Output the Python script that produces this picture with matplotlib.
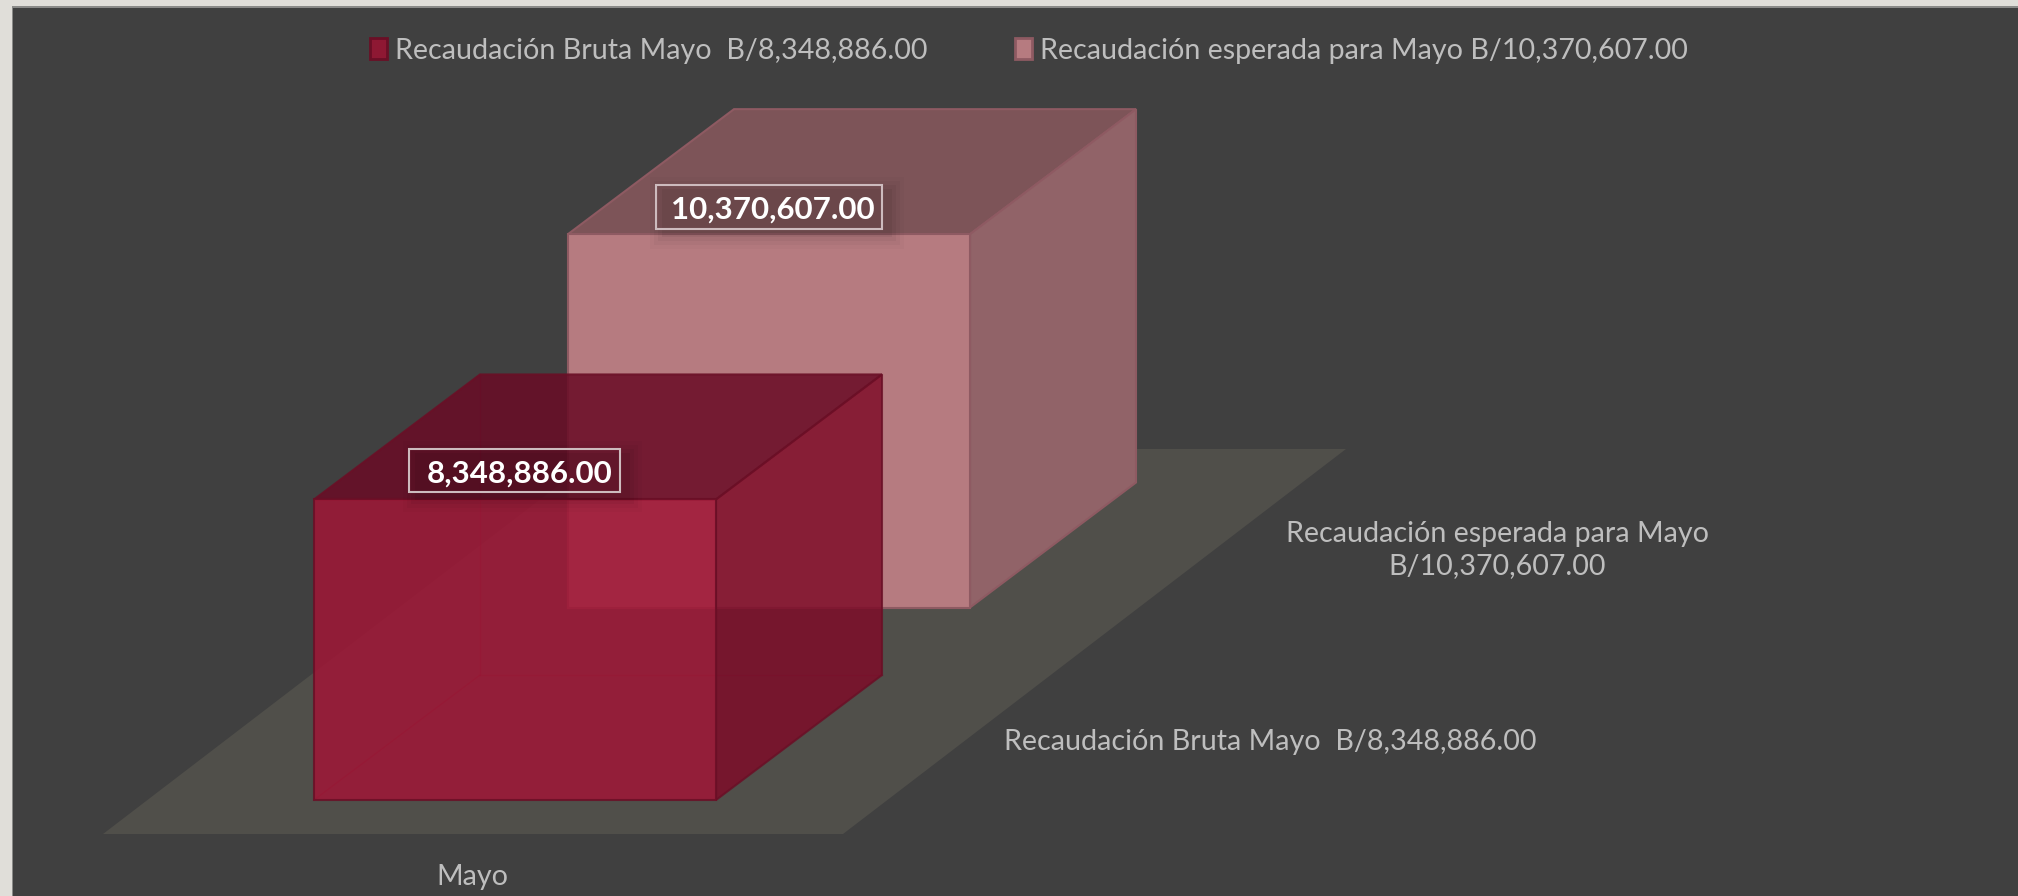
"""Recaudacion de Mayo, two 3D style boxes on a dark slide"""

import matplotlib
matplotlib.use("Agg")
import matplotlib.pyplot as plt
from matplotlib.patches import Polygon, Rectangle

series_names = ["Recaudación Bruta Mayo  B/8,348,886.00",
                "Recaudación esperada para Mayo B/10,370,607.00"]
depth_labels = ["Recaudación Bruta Mayo  B/8,348,886.00",
                "Recaudación esperada para Mayo\nB/10,370,607.00"]
values = [8348886.0, 10370607.0]
value_labels = ["8,348,886.00", "10,370,607.00"]
category = "Mayo"

W, H = 2018, 896
PX_PER_VALUE = 3.6e-5   # pixels of height for one balboa
BASE_Y = 800            # pixel row of value 0 for the front box
BOX_X = 314
BOX_W = 402
DEPTH_X, DEPTH_Y = 166, 125     # oblique offset of a box back face
ROW_X, ROW_Y = 254, 192.5       # offset from one series to the next

front = [("#A01636", 0.85), ("#B67B80", 1.0)]
side = [("#7E0C28", 0.84), ("#916368", 1.0)]
top = [("#690C26", 0.86), ("#7D5458", 1.0)]
edge = ["#6A0F26", "#8E5A62"]
swatch = ["#8E1833", "#B67B80"]
TEXT = "#BEBEBE"


def py(pixel_row):
    """Pixel row to value on the y axis"""
    return (BASE_Y - pixel_row) / PX_PER_VALUE


def label_box(ax, x, y, w, h, text, size):
    """Value label with its soft shadow and thin frame"""
    for grow, alpha in ((14, 0.02), (10, 0.03), (6, 0.04), (2, 0.05)):
        ax.add_patch(Rectangle((x + 8 - grow, py(y + h + 6 + grow)), w + 2 * grow,
                               (h + 2 * grow) / PX_PER_VALUE, fc="black", ec="none",
                               alpha=alpha, zorder=6))
    ax.add_patch(Rectangle((x, py(y + h)), w, h / PX_PER_VALUE, fc="none", ec="#CDBBBE",
                           lw=1.5, zorder=7))
    ax.text(x + w - 7, py(y + h / 2 + 0.5), text, color="white", fontsize=size,
            fontweight="bold", ha="right", va="center_baseline", family="Lato", zorder=8)


def main():
    """Draw the slide"""
    fig = plt.figure(figsize=(W / 100, H / 100), dpi=100, facecolor="#E0DED9")
    fig.add_artist(Rectangle((12 / W, 0), 1, (H - 6) / H, transform=fig.transFigure,
                             fc="#8A8A88", ec="none", zorder=-2))
    fig.add_artist(Rectangle((13 / W, 0), 1, (H - 8) / H, transform=fig.transFigure,
                             fc="#404040", ec="none", zorder=-1))
    ax = fig.add_axes([0, 0, 1, 1])
    ax.set_xlim(0, W)
    ax.set_ylim(py(H), py(0))
    ax.axis("off")

    # floor
    ax.add_patch(Polygon([(103, py(834)), (843, py(834)), (1346, py(449)), (606, py(449))],
                         fc="#504F4A", ec="none", zorder=1))

    # back series first so the front one sits over it
    for i in (1, 0):
        x0 = BOX_X + i * ROW_X
        x1 = x0 + BOX_W
        b0 = i * ROW_Y / PX_PER_VALUE
        t0 = b0 + values[i]
        dv = DEPTH_Y / PX_PER_VALUE
        z = 2 + (1 - i) * 2
        kw = dict(ec=edge[i], lw=1.5, zorder=z)
        if i == 0:
            # faint hidden edges of the see through box
            ax.plot([x0 + DEPTH_X, x0 + DEPTH_X], [b0 + dv, t0 + dv], color=edge[i], lw=1, alpha=0.5, zorder=z)
            ax.plot([x0, x0 + DEPTH_X], [b0, b0 + dv], color=edge[i], lw=1, alpha=0.5, zorder=z)
            ax.plot([x0 + DEPTH_X, x1 + DEPTH_X], [b0 + dv, b0 + dv], color=edge[i], lw=1, alpha=0.4, zorder=z)
        ax.add_patch(Polygon([(x0, t0), (x1, t0), (x1 + DEPTH_X, t0 + dv), (x0 + DEPTH_X, t0 + dv)],
                             fc=top[i][0], alpha=top[i][1], **kw))
        ax.add_patch(Polygon([(x1, b0), (x1 + DEPTH_X, b0 + dv), (x1 + DEPTH_X, t0 + dv), (x1, t0)],
                             fc=side[i][0], alpha=side[i][1], **kw))
        ax.add_patch(Polygon([(x0, b0), (x1, b0), (x1, t0), (x0, t0)],
                             fc=front[i][0], alpha=front[i][1], **kw))

    label_box(ax, 409, 449, 211, 43, value_labels[0], 22.5)
    label_box(ax, 656, 185, 226, 44, value_labels[1], 22.5)

    # legend
    handles = [Rectangle((0, 0), 1, 1, fc=swatch[i], ec=edge[i], lw=2) for i in range(2)]
    fig.legend(handles, series_names, loc="center", bbox_to_anchor=(1029 / W, 1 - 50.5 / H), ncol=2,
               frameon=False, labelcolor=TEXT, handlelength=0.58, handleheight=0.72,
               handletextpad=0.3, columnspacing=3.05, prop={"family": "Lato", "size": 20.6})

    fig.text(1497 / W, 1 - 550 / H, depth_labels[1], color=TEXT, fontsize=20.6, family="Lato",
             ha="center", va="center", linespacing=1.3)
    fig.text(1270 / W, 1 - 742 / H, depth_labels[0], color=TEXT, fontsize=20.6, family="Lato",
             ha="center", va="center")
    fig.text(472 / W, 1 - 877 / H, category, color=TEXT, fontsize=20.6, family="Lato",
             ha="center", va="center")

    fig.savefig("out.png", dpi=100, facecolor=fig.get_facecolor())


main()
